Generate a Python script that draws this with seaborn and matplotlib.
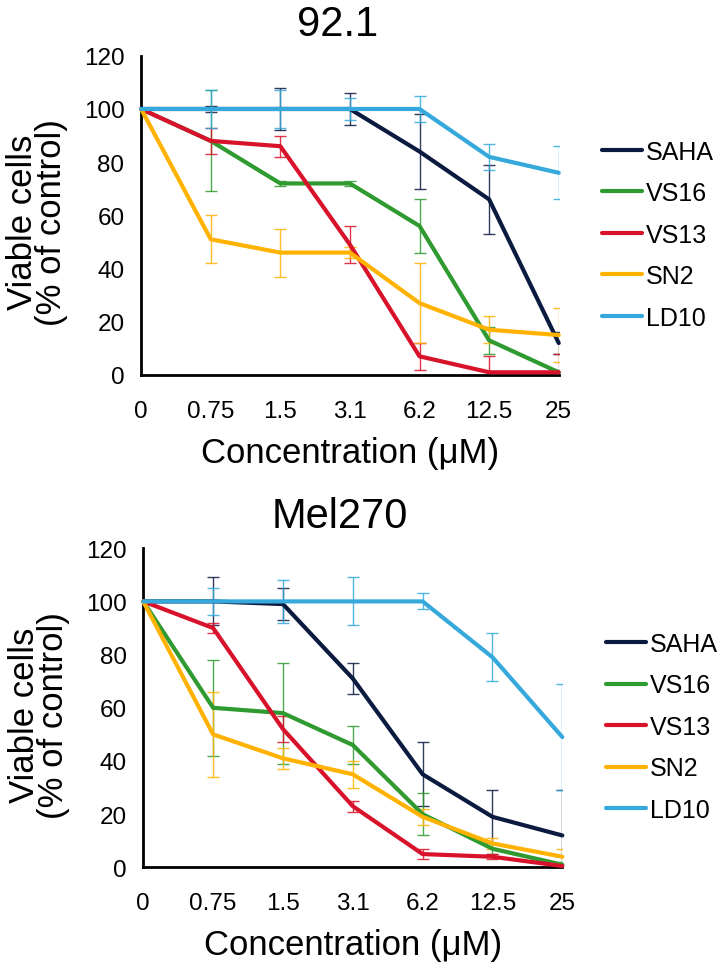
import matplotlib
matplotlib.use("Agg")
import matplotlib.pyplot as plt
import seaborn as sns
import pandas as pd

conc_labels = ["0", "0.75", "1.5", "3.1", "6.2", "12.5", "25"]
compounds = ["SAHA", "VS16", "VS13", "SN2", "LD10"]
colors = ["#0b1a3f", "#2f9a2f", "#d9122b", "#ffb200", "#35a9dc"]

# 92.1 cell line
v921 = {
    "SAHA": [100, 100, 100, 100, 84, 66, 12],
    "VS16": [100, 88, 72, 72, 56, 13, 1],
    "VS13": [100, 88, 86, 49, 7, 1, 1],
    "SN2":  [100, 51, 46, 46, 27, 17, 15],
    "LD10": [100, 100, 100, 100, 100, 82, 76],
}
e921 = {
    "SAHA": [0, 1, 8, 6, 14, 13, 4],
    "VS16": [0, 19, 1, 1, 10, 5, 1],
    "VS13": [0, 5, 4, 7, 5, 6, 7],
    "SN2":  [0, 9, 9, 2, 15, 5, 10],
    "LD10": [0, 7, 7, 4, 5, 5, 10],
}

# Mel270 cell line
v270 = {
    "SAHA": [100, 100, 99, 71, 35, 19, 12],
    "VS16": [100, 60, 58, 46, 20, 7, 1],
    "VS13": [100, 90, 52, 23, 5, 4, 0.5],
    "SN2":  [100, 50, 41, 35, 19, 9, 4],
    "LD10": [100, 100, 100, 100, 100, 79, 49],
}
e270 = {
    "SAHA": [0, 9, 6, 6, 12, 10, 17],
    "VS16": [0, 18, 19, 7, 8, 2, 1],
    "VS13": [0, 2, 5, 2, 2, 1, 0.5],
    "SN2":  [0, 16, 4, 5, 3, 2, 3],
    "LD10": [0, 5, 8, 9, 3, 9, 20],
}

sns.set_style("white")
plt.rcParams["font.family"] = ["Liberation Sans", "DejaVu Sans"]
plt.rcParams["text.color"] = "black"
plt.rcParams["axes.labelcolor"] = "black"
plt.rcParams["xtick.color"] = "black"
plt.rcParams["ytick.color"] = "black"

fig = plt.figure(figsize=(7.2, 9.79), dpi=100)
ax1 = fig.add_axes([0.196, 0.616, 0.58, 0.326])
ax2 = fig.add_axes([0.199, 0.113, 0.582, 0.326])


def draw(ax, vals, errs, title):
    rows = []
    for c in compounds:
        for i, lab in enumerate(conc_labels):
            rows.append({"pos": i, "conc": lab, "compound": c,
                         "viable": vals[c][i], "err": errs[c][i]})
    df = pd.DataFrame(rows)
    # thin error bars behind the mean lines
    for c, col in zip(compounds, colors):
        d = df[df.compound == c]
        ax.errorbar(d.pos, d.viable, yerr=d.err, fmt="none", ecolor=col,
                    elinewidth=1, capsize=4, capthick=1, alpha=0.85, zorder=2)
    sns.lineplot(data=df, x="pos", y="viable", hue="compound",
                 hue_order=compounds, palette=colors, linewidth=3,
                 ax=ax, zorder=3, clip_on=False)
    ax.set_xlim(0, 6)
    ax.set_ylim(0, 120)
    ax.set_xticks(range(len(conc_labels)))
    ax.set_xticklabels(conc_labels)
    ax.set_yticks(range(0, 121, 20))
    ax.tick_params(axis="both", labelsize=17.5, length=6, width=1.5,
                   direction="out", pad=6)
    ax.tick_params(axis="x", pad=12)
    sns.despine(ax=ax)
    for s in ["left", "bottom"]:
        ax.spines[s].set_color("black")
        ax.spines[s].set_linewidth(2)
    ax.set_xlabel("Concentration (μM)", fontsize=25, labelpad=10)
    ax.set_ylabel("Viable cells\n(% of control)", fontsize=25,
                  linespacing=0.85)
    ax.yaxis.set_label_coords(-0.175, 0.48)
    ax.set_title(title, fontsize=30, pad=15, x=0.47)
    leg = ax.legend(loc="center left", bbox_to_anchor=(1.05, 0.44),
                    frameon=False, fontsize=18, handlelength=1.6,
                    handletextpad=0.15, labelspacing=0.7)
    for h in leg.get_lines():
        h.set_linewidth(3)


draw(ax1, v921, e921, "92.1")
draw(ax2, v270, e270, "Mel270")

fig.savefig("out.png", dpi=100)
